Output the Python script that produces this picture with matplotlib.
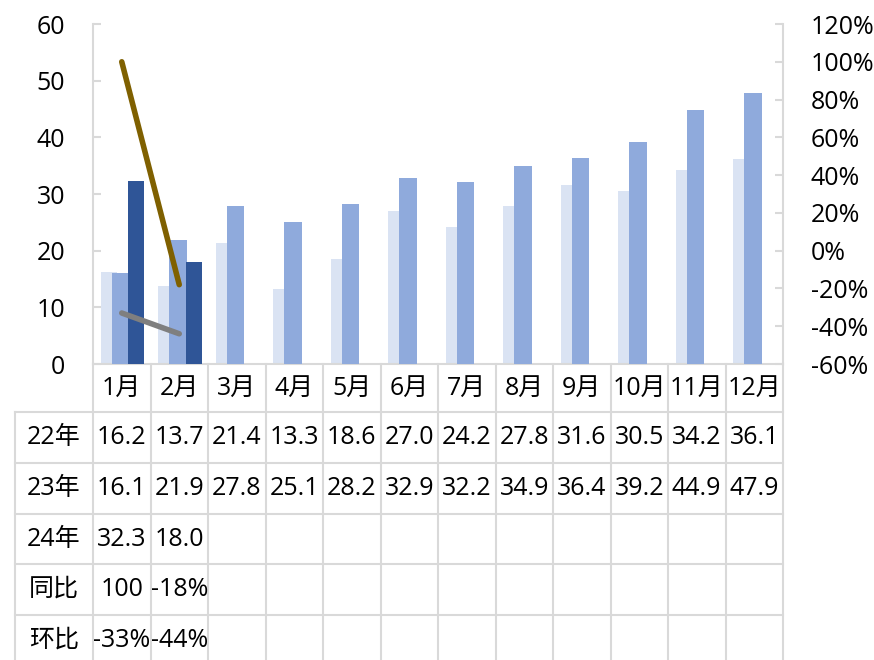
import numpy as np
import matplotlib
matplotlib.use("Agg")
import matplotlib.pyplot as plt
import matplotlib.transforms as mtransforms
from matplotlib.ticker import FuncFormatter
from matplotlib.lines import Line2D

plt.rcParams['font.family'] = ['Open Sans', 'Noto Sans CJK SC', 'DejaVu Sans']

months = ['1月', '2月', '3月', '4月', '5月', '6月', '7月', '8月', '9月', '10月', '11月', '12月']
sales_22 = [16.2, 13.7, 21.4, 13.3, 18.6, 27.0, 24.2, 27.8, 31.6, 30.5, 34.2, 36.1]
sales_23 = [16.1, 21.9, 27.8, 25.1, 28.2, 32.9, 32.2, 34.9, 36.4, 39.2, 44.9, 47.9]
sales_24 = [32.3, 18.0]
yoy = [1.00, -0.18]
mom = [-0.33, -0.44]
yoy_text = ['100', '-18%']
mom_text = ['-33%', '-44%']
row_names = ['22年', '23年', '24年', '同比', '环比']

W, H = 874, 660
fig = plt.figure(figsize=(W / 100, H / 100), dpi=100)

# plot area in pixels (top-left origin)
L, R, T, B = 93, 783, 24, 364
ax = fig.add_axes([L / W, 1 - B / H, (R - L) / W, (B - T) / H])
ax2 = ax.twinx()

c22, c23, c24 = '#DAE3F3', '#8FAADC', '#2F5597'
grid_c = '#D9D9D9'

x = np.arange(len(months))
ax.bar(x - 0.22, sales_22, width=0.29, color=c22, zorder=2)
ax.bar(x - 0.02, sales_23, width=0.30, color=c23, zorder=3)
x24 = np.arange(len(sales_24))
ax.bar(x24 + 0.25, sales_24, width=0.28, color=c24, zorder=4)

ax2.plot(x24, yoy, color='#7F6000', lw=4, solid_capstyle='round', zorder=5)
ax2.plot(x24, mom, color='#7F7F7F', lw=4, solid_capstyle='round', zorder=5)

ax.set_xlim(-0.5, len(months) - 0.5)
ax.set_ylim(0, 60)
ax.set_yticks(np.arange(0, 61, 10))
ax2.set_ylim(-0.6, 1.2)
ax2.set_yticks(np.arange(-0.6, 1.21, 0.2))
ax2.yaxis.set_major_formatter(FuncFormatter(lambda v, p: f'{v * 100:.0f}%'))
ax.set_xticks([])

for a in (ax, ax2):
    for s in a.spines.values():
        s.set_visible(False)
ax.spines['left'].set_visible(True)
ax.spines['bottom'].set_visible(True)
ax2.spines['right'].set_visible(True)
for s in (ax.spines['left'], ax.spines['bottom'], ax2.spines['right']):
    s.set_color(grid_c)
    s.set_linewidth(1.5)

fs = 18
ax.tick_params(axis='y', direction='in', length=6, width=1.5, color=grid_c,
               labelsize=fs, pad=20, labelcolor='black')
ax2.tick_params(axis='y', direction='in', length=6, width=1.5, color=grid_c,
                labelsize=fs, pad=20, labelcolor='black')
ax.set_zorder(ax2.get_zorder() - 1)
ax2.patch.set_visible(False)

# data table below the plot, in pixel coordinates
pix = mtransforms.Affine2D().scale(1 / W, -1 / H).translate(0, 1) + fig.transFigure
col_edges = np.linspace(L, R, len(months) + 1)
col_mid = (col_edges[:-1] + col_edges[1:]) / 2
row_edges = [B, 412, 463, 514, 564, 615, 666]
label_left = 15


def seg(xs, ys):
    fig.add_artist(Line2D(xs, ys, transform=pix, color=grid_c, lw=1.5, zorder=1))


# horizontal rules
for yv in row_edges[1:]:
    seg([label_left, R], [yv, yv])
# vertical rules
for xv in col_edges:
    seg([xv, xv], [B, H + 5])
seg([label_left, label_left], [row_edges[1], H + 5])

for i, m in enumerate(months):
    fig.text(col_mid[i], (row_edges[0] + row_edges[1]) / 2, m, transform=pix,
             ha='center', va='center', fontsize=fs)

rows = [
    [f'{v:.1f}' for v in sales_22],
    [f'{v:.1f}' for v in sales_23],
    [f'{v:.1f}' for v in sales_24],
    yoy_text,
    mom_text,
]
for r, (name, vals) in enumerate(zip(row_names, rows)):
    yc = (row_edges[r + 1] + row_edges[r + 2]) / 2
    fig.text((label_left + L) / 2, yc, name, transform=pix,
             ha='center', va='center', fontsize=fs)
    for i, t in enumerate(vals):
        fig.text(col_mid[i], yc, t, transform=pix, ha='center', va='center', fontsize=fs)

fig.savefig('out.png', dpi=100)
